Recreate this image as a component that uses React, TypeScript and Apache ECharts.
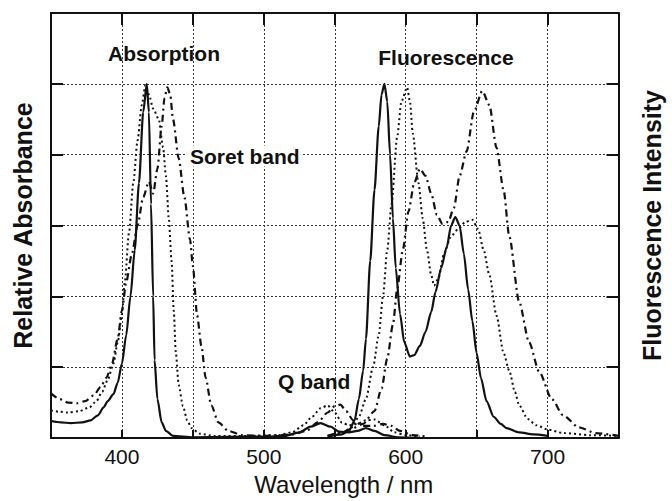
import React, { useEffect, useRef } from "react";
import * as echarts from "echarts";

// Wavelength axis (nm) and relative intensity axis ticks
const xTicks = [400, 500, 600, 700];
const xMin = 350;
const xMax = 750;
const yMin = 0;
const yMax = 6;

// Absorption spectra [wavelength, value]
const absSolid: [number, number][] = [
  [350, 0.24], [357, 0.22], [364, 0.21], [372, 0.22], [378, 0.25], [383, 0.32], [387, 0.43],
  [390, 0.52], [394, 0.62], [397, 0.78], [400, 1.05], [403, 1.45], [406, 2.0], [409, 2.65],
  [412, 3.6], [415, 4.6], [417.5, 5.0], [419, 4.6], [420.5, 3.3], [422, 2.0], [423, 1.1],
  [425, 0.55], [428, 0.22], [431, 0.1], [436, 0.03], [450, 0.01], [500, 0.02], [515, 0.03],
  [525, 0.08], [533, 0.16], [540, 0.21], [547, 0.16], [553, 0.09], [560, 0.08], [566, 0.1],
  [572, 0.14], [578, 0.1], [585, 0.04], [595, 0.01], [610, 0.0],
];
const absDotted: [number, number][] = [
  [350, 0.39], [356, 0.37], [362, 0.36], [370, 0.38], [377, 0.43], [382, 0.52], [386, 0.65],
  [390, 0.82], [394, 1.05], [397, 1.35], [400, 1.75], [402, 2.2], [405, 2.9], [408, 3.6],
  [411, 4.2], [414, 4.7], [416.5, 4.98], [419, 4.85], [422, 4.65], [426, 4.5], [429, 4.1],
  [431, 3.7], [433, 3.1], [435, 2.5], [436.5, 1.8], [438, 1.2], [440, 0.75], [443, 0.45],
  [446, 0.25], [449, 0.14], [455, 0.06], [465, 0.03], [490, 0.03], [510, 0.04], [520, 0.08],
  [528, 0.18], [534, 0.3], [540, 0.42], [545, 0.46], [550, 0.36], [555, 0.22], [560, 0.18],
  [566, 0.2], [572, 0.25], [578, 0.26], [585, 0.18], [592, 0.08], [600, 0.04], [610, 0.02],
];
const absDashDot: [number, number][] = [
  [350, 0.63], [356, 0.55], [362, 0.5], [368, 0.49], [374, 0.52], [380, 0.6], [385, 0.72],
  [389, 0.85], [393, 1.05], [397, 1.4], [400, 1.8], [403, 2.2], [407, 2.6], [411, 3.0],
  [415, 3.4], [419, 3.62], [422, 3.45], [425, 3.8], [428, 4.4], [430, 4.8], [432, 4.95],
  [434, 4.85], [436, 4.5], [440, 3.95], [444, 3.4], [448, 2.8], [450, 2.43], [453, 1.73],
  [456, 1.3], [459, 0.85], [463, 0.46], [468, 0.22], [475, 0.1], [485, 0.04], [500, 0.03],
  [520, 0.05], [530, 0.1], [538, 0.22], [545, 0.36], [550, 0.45], [554, 0.47], [558, 0.38],
  [563, 0.25], [570, 0.17], [577, 0.17], [584, 0.2], [590, 0.17], [596, 0.1], [605, 0.04],
  [615, 0.02],
];

// Fluorescence spectra [wavelength, value]
const fluSolid: [number, number][] = [
  [545, 0.02], [555, 0.05], [560, 0.1], [564, 0.25], [567, 0.55], [570, 0.95], [572, 1.4],
  [575, 2.5], [578, 3.5], [581, 4.4], [583, 4.85], [585, 5.0], [587, 4.75], [589, 4.0],
  [591, 3.1], [593, 2.4], [596, 1.75], [599, 1.35], [603, 1.15], [606, 1.17], [610, 1.3],
  [614, 1.5], [618, 1.78], [621, 2.06], [625, 2.4], [629, 2.7], [632, 3.0], [635, 3.12],
  [638, 3.0], [641, 2.6], [644, 2.1], [647, 1.65], [650, 1.2], [653, 0.85], [657, 0.52],
  [662, 0.3], [667, 0.2], [671, 0.14], [680, 0.08], [690, 0.05], [700, 0.03],
];
const fluDotted: [number, number][] = [
  [545, 0.03], [555, 0.07], [562, 0.15], [567, 0.3], [572, 0.55], [577, 1.0], [581, 1.45],
  [584, 2.0], [587, 2.65], [590, 3.3], [594, 4.25], [597, 4.75], [601, 4.95], [603, 4.75],
  [605, 4.3], [609, 3.6], [612, 3.1], [615, 2.65], [618, 2.3], [620, 2.15], [623, 2.25],
  [627, 2.6], [632, 2.85], [637, 2.95], [642, 3.05], [647, 3.08], [651, 2.95], [655, 2.65],
  [659, 2.3], [664, 1.73], [669, 1.2], [673, 0.95], [677, 0.65], [680, 0.46], [686, 0.27],
  [692, 0.18], [700, 0.12], [711, 0.07], [730, 0.04], [750, 0.03],
];
const fluDashDot: [number, number][] = [
  [545, 0.03], [555, 0.08], [562, 0.13], [570, 0.2], [578, 0.38], [583, 0.7], [587, 1.12],
  [591, 1.6], [594, 2.1], [598, 2.66], [602, 3.2], [606, 3.6], [610, 3.8], [614, 3.7],
  [618, 3.45], [622, 3.15], [626, 3.02], [630, 3.05], [634, 3.25], [638, 3.7], [643, 4.05],
  [648, 4.6], [654, 4.9], [659, 4.7], [664, 4.1], [669, 3.5], [673, 2.85], [680, 1.92],
  [687, 1.35], [694, 0.94], [703, 0.55], [711, 0.32], [722, 0.15], [734, 0.07], [750, 0.03],
];

const FONT = '"Liberation Sans", Arial, Helvetica, sans-serif';
const INK = "#111";

const styles = {
  solid: { type: "solid" as const, width: 2.2 },
  dotted: { type: [2, 3], width: 2 },
  dashDot: { type: [7, 4, 2, 4], width: 2.2 },
};

function lineSeries(name: string, data: [number, number][], style: any) {
  return {
    name,
    type: "line",
    data,
    showSymbol: false,
    symbol: "none",
    smooth: 0.25,
    smoothMonotone: "x",
    lineStyle: { color: INK, width: style.width, type: style.type, cap: "butt" },
    z: 3,
  };
}

export default function App() {
  const ref = useRef<HTMLDivElement>(null);
  useEffect(() => {
    if (!ref.current) return;
    const chart = echarts.init(ref.current, undefined, { renderer: "svg" });
    const axisLine = { show: true, onZero: false, lineStyle: { color: INK, width: 2 } };
    const splitLine = { show: true, lineStyle: { color: "#333", width: 1, type: [2, 2] } };
    chart.setOption({
      animation: false,
      backgroundColor: "#fff",
      grid: { left: 51, right: 48, top: 13, bottom: 61, containLabel: false },
      xAxis: [
        {
          type: "value",
          min: xMin,
          max: xMax,
          interval: 50,
          position: "bottom",
          axisLine,
          axisTick: { show: true, inside: true, length: 8, lineStyle: { color: INK, width: 2 } },
          axisLabel: {
            formatter: (v: number) => (xTicks.includes(v) ? String(v) : ""),
            fontSize: 21,
            color: INK,
            fontFamily: FONT,
            margin: 8,
          },
          splitLine,
          name: "Wavelength / nm",
          nameLocation: "middle",
          nameGap: 46,
          nameTextStyle: {
            fontSize: 24,
            color: INK,
            fontFamily: FONT,
            verticalAlign: "middle",
            padding: [0, 0, 0, 18],
          },
        },
        {
          type: "value",
          min: xMin,
          max: xMax,
          interval: 50,
          position: "top",
          axisLine,
          axisTick: { show: true, inside: true, length: 12, lineStyle: { color: INK, width: 2 } },
          axisLabel: { show: false },
          splitLine: { show: false },
        },
      ],
      yAxis: [
        {
          type: "value",
          min: yMin,
          max: yMax,
          interval: 1,
          position: "left",
          axisLine,
          axisTick: { show: true, inside: true, length: 12, lineStyle: { color: INK, width: 2 } },
          axisLabel: { show: false },
          splitLine,
          name: "Relative Absorbance",
          nameLocation: "middle",
          nameRotate: 90,
          nameGap: 28,
          nameTextStyle: {
            fontSize: 25,
            fontWeight: "bold",
            color: INK,
            fontFamily: FONT,
            verticalAlign: "middle",
          },
        },
        {
          type: "value",
          min: yMin,
          max: yMax,
          interval: 1,
          position: "right",
          axisLine,
          axisTick: { show: true, inside: true, length: 12, lineStyle: { color: INK, width: 2 } },
          axisLabel: { show: false },
          splitLine: { show: false },
          name: "Fluorescence Intensity",
          nameLocation: "middle",
          nameRotate: 90,
          nameGap: 33,
          nameTextStyle: {
            fontSize: 25,
            fontWeight: "bold",
            color: INK,
            fontFamily: FONT,
            verticalAlign: "middle",
          },
        },
      ],
      series: [
        lineSeries("Absorption (solid)", absSolid, styles.solid),
        lineSeries("Absorption (dotted)", absDotted, styles.dotted),
        lineSeries("Absorption (dash-dot)", absDashDot, styles.dashDot),
        lineSeries("Fluorescence (solid)", fluSolid, styles.solid),
        lineSeries("Fluorescence (dotted)", fluDotted, styles.dotted),
        lineSeries("Fluorescence (dash-dot)", fluDashDot, styles.dashDot),
      ],
      graphic: [
        {
          type: "text",
          x: 164,
          y: 53,
          z: 10,
          style: { text: "Absorption", fontSize: 21, fontWeight: "bold", fontFamily: FONT, fill: INK, align: "center", verticalAlign: "middle" },
        },
        {
          type: "text",
          x: 446,
          y: 57,
          z: 10,
          style: { text: "Fluorescence", fontSize: 21, fontWeight: "bold", fontFamily: FONT, fill: INK, align: "center", verticalAlign: "middle" },
        },
        {
          type: "text",
          x: 187,
          y: 156,
          z: 10,
          style: { text: "Soret band", fontSize: 21, fontWeight: "bold", fontFamily: FONT, fill: INK, align: "left", verticalAlign: "middle", backgroundColor: "#fff", padding: [0, 3, 0, 3] },
        },
        {
          type: "text",
          x: 278,
          y: 381,
          z: 10,
          style: { text: "Q band", fontSize: 21, fontWeight: "bold", fontFamily: FONT, fill: INK, align: "left", verticalAlign: "middle" },
        },
      ],
    });
    return () => chart.dispose();
  }, []);
  return (
    <div
      ref={ref}
      style={{ position: "fixed", left: 0, top: 0, width: 672, height: 501, background: "#fff" }}
    />
  );
}
